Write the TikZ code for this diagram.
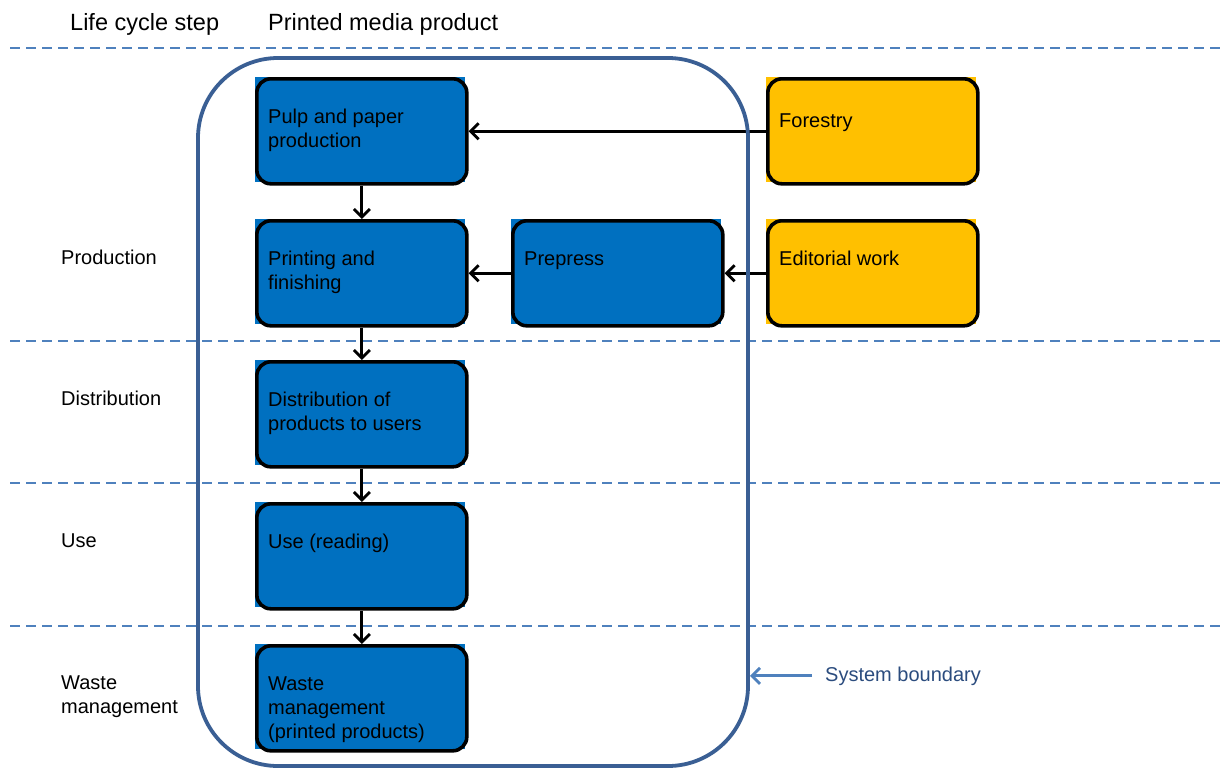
\documentclass[tikz,border=0pt]{standalone}
\usepackage{fontspec}
\setmainfont{Liberation Sans}
\usetikzlibrary{arrows.meta}
\definecolor{boxblue}{HTML}{0070C0}
\definecolor{boxyellow}{HTML}{FFC000}
\definecolor{dashblue}{HTML}{4F81BD}
\definecolor{bndcol}{HTML}{3A5F94}
\definecolor{labelblue}{HTML}{2B4C7E}
% name, x, y, colour, text-offset, text
\newcommand{\procnode}[6]{%
  \fill[#4] (#2,#3) rectangle ++(210,105);
  \node[procbox] (#1) at (#2,#3) {};
  \node[boxtext] (#1t) at ([shift={(13,29.2+#5)}]#2,#3) {\strut#6};
}
\begin{document}
\begin{tikzpicture}[x=1pt,y=-1pt,
  procbox/.style={draw=black, line width=3.6pt, rounded corners=14pt,
    minimum width=210pt, minimum height=105pt, inner sep=0pt, outer sep=1.8pt,
    anchor=north west},
  boxtext/.style={anchor=north west, align=left, inner sep=0pt,
    font=\fontsize{20}{24}\selectfont},
  steptext/.style={anchor=north west, align=left, inner sep=0pt,
    font=\fontsize{20}{24}\selectfont},
  headtext/.style={anchor=base west, inner sep=0pt,
    font=\fontsize{23.5}{28}\selectfont},
  flow/.style={draw=black, line width=2.8pt,
    -{Straight Barb[length=8pt,width=16pt]}},
  bflow/.style={draw=dashblue, line width=2.8pt,
    -{Straight Barb[length=8pt,width=16pt]}},
  sepline/.style={draw=dashblue, line width=2.8pt, dash pattern=on 10pt off 6pt},
  boundary/.style={draw=bndcol, line width=3.8pt, rounded corners=80pt,
    minimum width=550pt, minimum height=708pt, inner sep=0pt, outer sep=0pt,
    anchor=north west}]
\useasboundingbox (0,0) rectangle (1223,769);

% headers
\node[headtext] (hstep) at (70,30) {Life cycle step};
\node[headtext] (hprod) at (268,30) {Printed media product};

% separators
\draw[sepline] (10,48) -- (1220,48);
\draw[sepline] (10,341) -- (1220,341);
\draw[sepline] (10,483) -- (1220,483);
\draw[sepline] (10,626) -- (1220,626);

% life cycle steps (top of strut = baseline - 16.8)
\node[steptext] (lprod) at (61,247.2) {\strut Production};
\node[steptext] (ldist) at (61,388.2) {\strut Distribution};
\node[steptext] (luse) at (61,530.2) {\strut Use};
\node[steptext] (lwaste) at (61,672.2) {\strut Waste\\management};

% process boxes
\procnode{pulp}{255}{77}{boxblue}{0}{Pulp and paper\\production}
\procnode{print}{255}{219}{boxblue}{0}{Printing and\\finishing}
\procnode{dist}{255}{360}{boxblue}{0}{Distribution of\\products to users}
\procnode{use}{255}{502}{boxblue}{0}{Use (reading)}
\procnode{waste}{255}{644}{boxblue}{0}{Waste\\management\\(printed products)}
\procnode{prepress}{511}{219}{boxblue}{0}{Prepress}
\procnode{forestry}{766}{77}{boxyellow}{4}{Forestry}
\procnode{editorial}{766}{219}{boxyellow}{0}{Editorial work}

% flows
\draw[flow] (forestry.west) -- (pulp.east);
\draw[flow] (pulp.south) -- (print.north);
\draw[flow] (prepress.west) -- (print.east);
\draw[flow] (editorial.west) -- (prepress.east);
\draw[flow] (print.south) -- (dist.north);
\draw[flow] (dist.south) -- (use.north);
\draw[flow] (use.south) -- (waste.north);

% system boundary
\node[boundary] (bnd) at (198,58) {};
\node[anchor=base west, inner sep=0pt, text=labelblue,
  font=\fontsize{20}{24}\selectfont] (sbl) at (825,681) {System boundary};
\coordinate (bpt) at ([xshift=2pt]bnd.east |- sbl.west);
\draw[bflow] ([xshift=-13pt]sbl.west) -- (bpt);
\end{tikzpicture}
\end{document}
